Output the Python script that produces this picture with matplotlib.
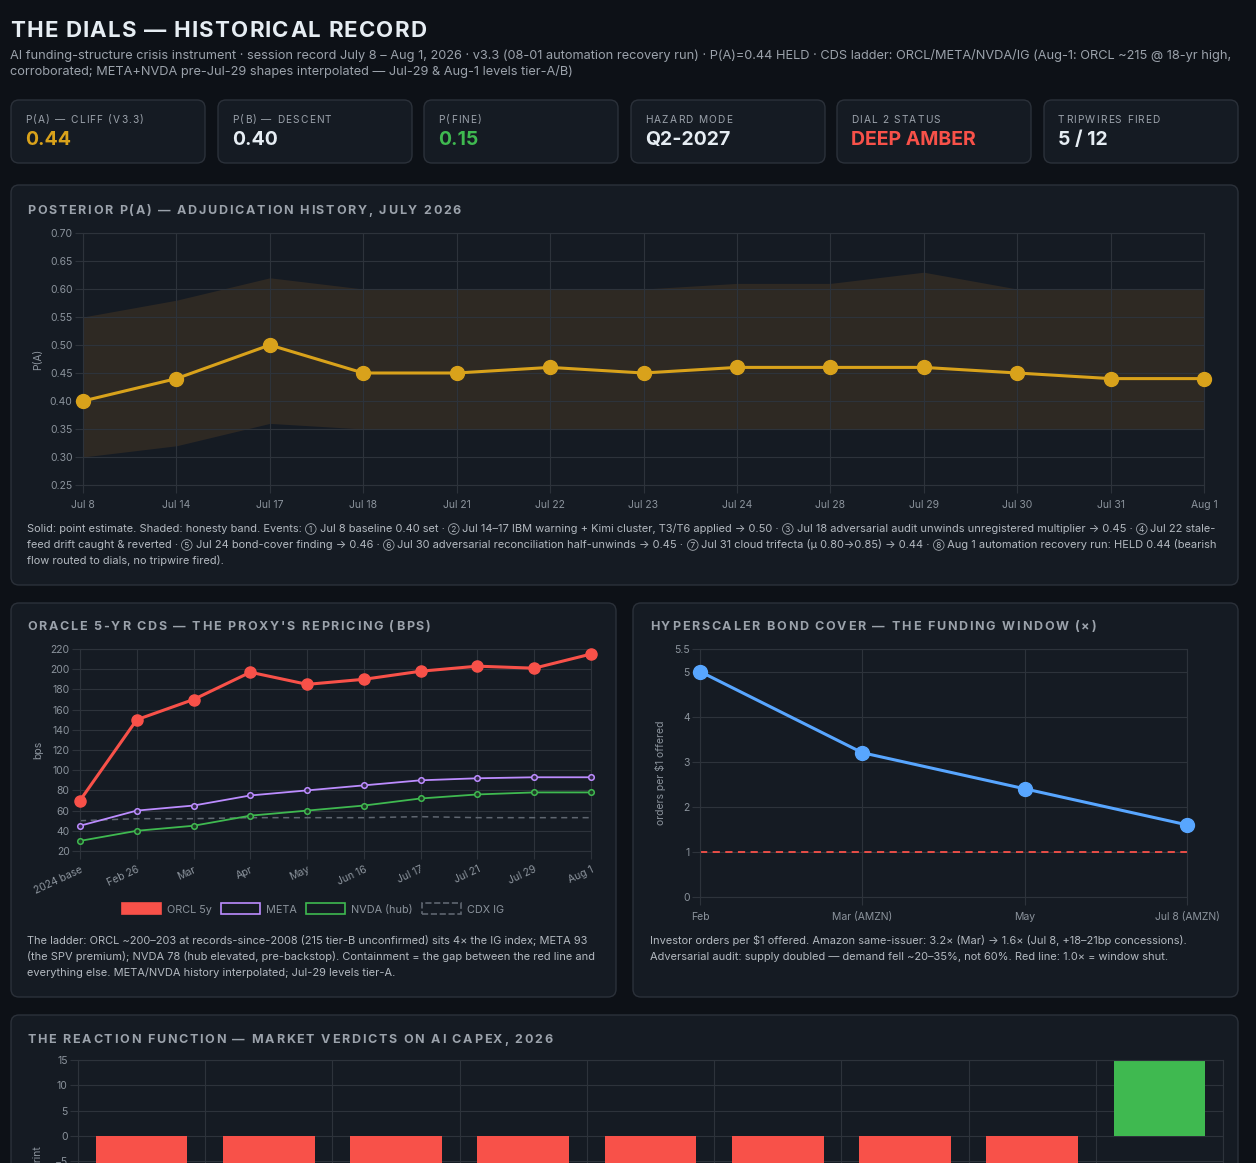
import re
import matplotlib
matplotlib.use('Agg')
import matplotlib.pyplot as plt
from matplotlib.patches import FancyBboxPatch, Patch
from matplotlib.font_manager import FontProperties

# ---- data -------------------------------------------------------------
pa_dates = ['Jul 8', 'Jul 14', 'Jul 17', 'Jul 18', 'Jul 21', 'Jul 22', 'Jul 23',
            'Jul 24', 'Jul 28', 'Jul 29', 'Jul 30', 'Jul 31', 'Aug 1']
pa_point = [0.40, 0.44, 0.50, 0.45, 0.45, 0.46, 0.45, 0.46, 0.46, 0.46, 0.45, 0.44, 0.44]
pa_band_hi = [0.55, 0.58, 0.62, 0.60, 0.60, 0.60, 0.60, 0.61, 0.61, 0.63, 0.60, 0.60, 0.60]
pa_band_lo = [0.30, 0.32, 0.36, 0.35, 0.35, 0.35, 0.35, 0.35, 0.35, 0.35, 0.35, 0.35, 0.35]

cds_dates = ['2024 base', 'Feb 26', 'Mar', 'Apr', 'May', 'Jun 16', 'Jul 17', 'Jul 21', 'Jul 29', 'Aug 1']
cds_orcl = [70, 150, 170, 197, 185, 190, 198, 203, 201, 215]
cds_meta = [45, 60, 65, 75, 80, 85, 90, 92, 93, 93]
cds_nvda = [30, 40, 45, 55, 60, 65, 72, 76, 78, 78]
cds_ig = [50, 52, 52, 53, 53, 53, 54, 53, 53, 53]

cover_dates = ['Feb', 'Mar (AMZN)', 'May', 'Jul 8 (AMZN)']
cover_vals = [5.0, 3.2, 2.4, 1.6]
cover_shut = 1.0

# reaction chart is cut off at the bottom of the picture; only the bar tops show
reaction_vals = [-8, -8, -8, -8, -8, -8, -8, -8, 15]

cards = [
    ('P(A) — CLIFF (V3.3)', '0.44', '#d9a21b'),
    ('P(B) — DESCENT', '0.40', '#e6edf3'),
    ('P(FINE)', '0.15', '#3fb950'),
    ('HAZARD MODE', 'Q2-2027', '#e6edf3'),
    ('DIAL 2 STATUS', 'DEEP AMBER', '#f85149'),
    ('TRIPWIRES FIRED', '5 / 12', '#e6edf3'),
]

# ---- style ------------------------------------------------------------
FAM = ['Inter', 'DejaVu Sans']
plt.rcParams['font.family'] = FAM
BG = '#0d1117'
PANEL = '#151b23'
BORDER = '#2b313a'
GRID = '#2d333b'
TXT = '#e6edf3'
MUTED = '#9ba2ab'
TICK = '#8b939c'
CAP = '#b3b9c0'
AMBER = '#d9a21b'
RED = '#f85149'
GREEN = '#3fb950'
BLUE = '#58a6ff'
PURPLE = '#bc8cff'

W, H = 1256, 1163
fig = plt.figure(figsize=(W / 100, H / 100), dpi=100, facecolor=BG)
bg = fig.add_axes([0, 0, 1, 1], zorder=-5)
bg.set_xlim(0, W)
bg.set_ylim(H, 0)
bg.axis('off')
rend = fig.canvas.get_renderer()


def adv(s, fp):
    # advance width of s in pixels (spaces included)
    base = rend.get_text_width_height_descent('xx', fp, ismath=False)[0]
    return rend.get_text_width_height_descent('x' + s + 'x', fp, ismath=False)[0] - base


def tracked(x, y, s, size, color, weight='bold', track=1.5):
    fp = FontProperties(family=FAM, size=size, weight=weight)
    for ch in s:
        bg.text(x, y, ch, fontproperties=fp, color=color, va='center', ha='left')
        x += adv(ch, fp) + track


def panel(x0, y0, x1, y1):
    bg.add_patch(FancyBboxPatch((x0, y0), x1 - x0, y1 - y0,
                                boxstyle='round,pad=0,rounding_size=8',
                                fc=PANEL, ec=BORDER, lw=1))


def px_axes(l, t, r, b):
    ax = fig.add_axes([l / W, 1 - b / H, (r - l) / W, (b - t) / H])
    ax.set_facecolor('none')
    ax.set_axisbelow(True)
    for s in ax.spines.values():
        s.set_color(GRID)
        s.set_linewidth(0.8)
    ax.grid(True, color=GRID, lw=0.8)
    ax.tick_params(colors=GRID, labelcolor=TICK, labelsize=7.5, length=5.5, width=0.8, pad=2)
    return ax


CAP_FP = FontProperties(family=FAM, size=7.95)
NUM_FP = FontProperties(family=FAM, size=6.0)


def caption(x, y, lines, gap=16):
    # circled event numbers are drawn smaller, the rest in the caption font
    for i, ln in enumerate(lines):
        cx = x
        for part in re.split('([\u2460-\u2473])', ln):
            if not part:
                continue
            fp = NUM_FP if re.fullmatch('[\u2460-\u2473]', part) else CAP_FP
            bg.text(cx, y + i * gap, part, fontproperties=fp, color=CAP, va='center', ha='left')
            cx += adv(part, fp)


# ---- header -----------------------------------------------------------
tracked(10, 31, 'THE DIALS — HISTORICAL RECORD', 16, TXT, track=1.2)
bg.text(10, 56, 'AI funding-structure crisis instrument · session record July 8 – Aug 1, 2026 · '
        'v3.3 (08-01 automation recovery run) · P(A)=0.44 HELD · CDS ladder: ORCL/META/NVDA/IG '
        '(Aug-1: ORCL ~215 @ 18-yr high,', color=MUTED, fontsize=9.2, va='center')
bg.text(10, 72, 'corroborated; META+NVDA pre-Jul-29 shapes interpolated — Jul-29 & Aug-1 levels tier-A/B)',
        color=MUTED, fontsize=9.2, va='center')

card_x = [11, 218, 424, 631, 837, 1044]
for cx, (lab, val, col) in zip(card_x, cards):
    panel(cx, 100, cx + 194, 163)
    tracked(cx + 14, 120, lab, 7.3, MUTED, weight='normal', track=1.2)
    bg.text(cx + 14, 140, val, color=col, fontsize=14, fontweight='bold', va='center')

# ---- panel 1: posterior P(A) ------------------------------------------
panel(11, 185, 1238, 585)
tracked(27, 211, 'POSTERIOR P(A) — ADJUDICATION HISTORY, JULY 2026', 9.0, MUTED, track=1.75)
ax1 = px_axes(83, 233, 1204, 485)
xi = range(len(pa_dates))
ax1.fill_between(xi, pa_band_lo, pa_band_hi, color='#2e2923', lw=0, zorder=0.2)
ax1.plot(xi, pa_point, color=AMBER, lw=2.2, marker='o', ms=10, clip_on=False, zorder=3)
ax1.set_xlim(0, len(pa_dates) - 1)
ax1.set_ylim(0.25, 0.70)
ax1.set_yticks([0.25 + 0.05 * i for i in range(10)])
ax1.set_yticklabels([f'{0.25 + 0.05 * i:.2f}' for i in range(10)])
ax1.set_xticks(list(xi))
ax1.set_xticklabels(pa_dates)
ax1.tick_params(axis='x', pad=5)
bg.text(38, 359, 'P(A)', rotation=90, color=TICK, fontsize=7.5, ha='center', va='center')
caption(27, 529, [
    'Solid: point estimate. Shaded: honesty band. Events: ① Jul 8 baseline 0.40 set · ② Jul 14–17 IBM warning + Kimi cluster, '
    'T3/T6 applied → 0.50 · ③ Jul 18 adversarial audit unwinds unregistered multiplier → 0.45 · ④ Jul 22 stale-',
    'feed drift caught & reverted · ⑤ Jul 24 bond-cover finding → 0.46 · ⑥ Jul 30 adversarial reconciliation half-unwinds '
    '→ 0.45 · ⑦ Jul 31 cloud trifecta (μ 0.80→0.85) → 0.44 · ⑧ Aug 1 automation recovery run: HELD 0.44 (bearish',
    'flow routed to dials, no tripwire fired).'])

# ---- panel 2: Oracle CDS ----------------------------------------------
panel(11, 603, 616, 997)
tracked(27, 627, "ORACLE 5-YR CDS — THE PROXY'S REPRICING (BPS)", 9.0, MUTED, track=1.75)
ax2 = px_axes(80, 649, 591, 851)
xc = range(len(cds_dates))
ax2.plot(xc, cds_ig, color='#5f6670', lw=1.1, ls=(0, (4, 3)), zorder=2)
ax2.plot(xc, cds_nvda, color=GREEN, lw=1.3, marker='o', ms=4, mfc='#1f3a27', mec=GREEN, mew=1.1, clip_on=False, zorder=3)
ax2.plot(xc, cds_meta, color=PURPLE, lw=1.3, marker='o', ms=4, mfc='#332a48', mec=PURPLE, mew=1.1, clip_on=False, zorder=3)
ax2.plot(xc, cds_orcl, color=RED, lw=2.2, marker='o', ms=8, clip_on=False, zorder=4)
ax2.set_xlim(0, len(cds_dates) - 1)
ax2.set_ylim(20, 220)
ax2.set_yticks(range(20, 221, 20))
ax2.set_xticks(list(xc))
ax2.set_xticklabels(cds_dates, rotation=25, ha='right', rotation_mode='anchor')
ax2.tick_params(axis='x', pad=4)
bg.text(38, 750, 'bps', rotation=90, color=TICK, fontsize=7.5, ha='center', va='center')
handles = [Patch(fc=RED, ec=RED, lw=1.2),
           Patch(fc=PANEL, ec=PURPLE, lw=1.2),
           Patch(fc=PANEL, ec=GREEN, lw=1.2),
           Patch(fc=PANEL, ec='#5f6670', lw=1.2, ls='--')]
bg.legend(handles, ['ORCL 5y', 'META', 'NVDA (hub)', 'CDX IG'], loc='center',
          bbox_to_anchor=(313, 909), bbox_transform=bg.transData, ncol=4, frameon=False,
          fontsize=7.8, handlelength=3.6, handleheight=1.15, handletextpad=0.5,
          columnspacing=0.9, labelcolor=TICK)
caption(27, 941, [
    'The ladder: ORCL ~200–203 at records-since-2008 (215 tier-B unconfirmed) sits 4× the IG index; META 93',
    '(the SPV premium); NVDA 78 (hub elevated, pre-backstop). Containment = the gap between the red line and',
    'everything else. META/NVDA history interpolated; Jul-29 levels tier-A.'])

# ---- panel 3: bond cover ----------------------------------------------
panel(633, 603, 1238, 997)
tracked(650, 627, 'HYPERSCALER BOND COVER — THE FUNDING WINDOW (×)', 9.0, MUTED, track=1.75)
ax3 = px_axes(700, 649, 1187, 897)
xb = range(len(cover_dates))
ax3.axhline(cover_shut, color=RED, lw=1.3, ls=(0, (4, 3)), zorder=2)
ax3.plot(xb, cover_vals, color=BLUE, lw=2.2, marker='o', ms=10, clip_on=False, zorder=3)
ax3.set_xlim(0, len(cover_dates) - 1)
ax3.set_ylim(0, 5.5)
ax3.set_yticks([0, 1, 2, 3, 4, 5, 5.5])
ax3.set_yticklabels(['0', '1', '2', '3', '4', '5', '5.5'])
ax3.set_xticks(list(xb))
ax3.set_xticklabels(cover_dates)
ax3.tick_params(axis='x', pad=5)
bg.text(661, 773, 'orders per $1 offered', rotation=90, color=TICK, fontsize=7.5, ha='center', va='center')
caption(650, 941, [
    'Investor orders per $1 offered. Amazon same-issuer: 3.2× (Mar) → 1.6× (Jul 8, +18–21bp concessions).',
    'Adversarial audit: supply doubled — demand fell ~20–35%, not 60%. Red line: 1.0× = window shut.'])

# ---- panel 4: reaction function (cut off) -----------------------------
panel(11, 1015, 1238, 1400)
tracked(27, 1040, 'THE REACTION FUNCTION — MARKET VERDICTS ON AI CAPEX, 2026', 9.0, MUTED, track=1.75)
ax4 = px_axes(78, 1060, 1223, 1288)
xr = range(len(reaction_vals))
ax4.bar(xr, reaction_vals, width=0.72, color=[GREEN if v > 0 else RED for v in reaction_vals], zorder=2)
ax4.set_xlim(-0.5, len(reaction_vals) - 0.5)
ax4.set_ylim(-30, 15)
ax4.set_yticks(range(-30, 16, 5))
ax4.set_xticks([i - 0.5 for i in range(len(reaction_vals) + 1)])
ax4.set_xticklabels([])
bg.text(38, 1146, '% move on print', rotation=90, color=TICK, fontsize=7.5, ha='center', va='top')

fig.savefig('out.png', dpi=100, facecolor=BG)
